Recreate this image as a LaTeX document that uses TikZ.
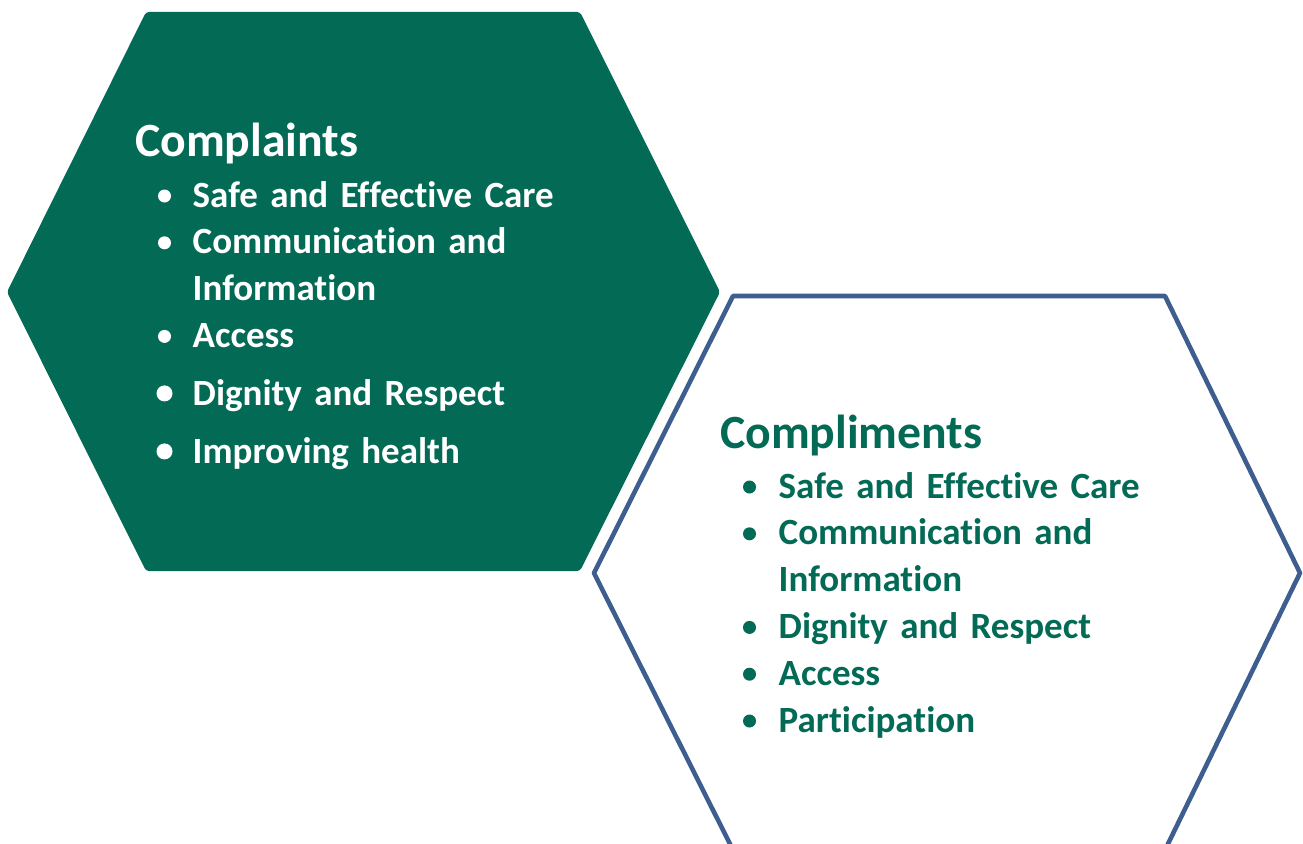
\documentclass[tikz,border=0pt]{standalone}
\usepackage{fontspec}
\setmainfont{Carlito}[Ligatures={NoCommon, NoRare}]
\definecolor{hexgreen}{HTML}{036A56}
\definecolor{hexblue}{HTML}{3D5E8E}
\newcommand{\tightspace}{\spaceskip=0.19em\relax}

\begin{document}
\begin{tikzpicture}[x=1pt, y=-1pt, node distance=46.8pt]
    \tikzstyle{heading} = [anchor=base west, inner sep=0pt, font=\fontsize{47.7}{56}\selectfont\bfseries]
    \tikzstyle{entry} = [text width=400pt, align=left, text height=26pt, text depth=9pt, inner sep=0pt, font=\fontsize{37}{46}\selectfont\bfseries\tightspace]

    \useasboundingbox (0,0) rectangle (1303,843);

    % Complaints hexagon
    \fill [hexgreen, rounded corners=3pt] (7,292) -- (146,12) -- (580,12) -- (720,292) -- (580,571) -- (146,571) -- cycle;

    \node [heading, text=white] (complaints) at (135,156) {Complaints};
    \node [entry, text=white, anchor=base west] (cl1) at (192.5,207) {Safe and Effective Care};
    \node [entry, text=white, below of=cl1] (cl2) {Communication and};
    \node [entry, text=white, below of=cl2] (cl3) {Information};
    \node [entry, text=white, below of=cl3] (cl4) {Access};
    \node [entry, text=white, below of=cl4, yshift=-11.2pt] (cl5) {Dignity and Respect};
    \node [entry, text=white, below of=cl5, yshift=-11.2pt] (cl6) {Improving health};

    \foreach \n in {cl1, cl2, cl4}
        \fill [white] ([shift={(-28pt,11pt)}]\n.base west) circle (6.5pt);
    \foreach \n in {cl5, cl6}
        \fill [white] ([shift={(-28pt,12pt)}]\n.base west) circle (8pt);

    % Compliments hexagon (runs off the bottom edge)
    \draw [hexblue, line width=4.6pt, line join=round] (594,573) -- (733,296) -- (1165,296) -- (1300,573) -- (1165,850) -- (733,850) -- cycle;

    \node [heading, text=hexgreen] (compliments) at (720,448) {Compliments};
    \node [entry, text=hexgreen, anchor=base west] (cr1) at (778.5,498) {Safe and Effective Care};
    \node [entry, text=hexgreen, below of=cr1] (cr2) {Communication and};
    \node [entry, text=hexgreen, below of=cr2] (cr3) {Information};
    \node [entry, text=hexgreen, below of=cr3] (cr4) {Dignity and Respect};
    \node [entry, text=hexgreen, below of=cr4] (cr5) {Access};
    \node [entry, text=hexgreen, below of=cr5] (cr6) {Participation};

    \foreach \n in {cr1, cr2, cr4, cr5, cr6}
        \fill [hexgreen] ([shift={(-29pt,11pt)}]\n.base west) circle (6.5pt);
\end{tikzpicture}
\end{document}
